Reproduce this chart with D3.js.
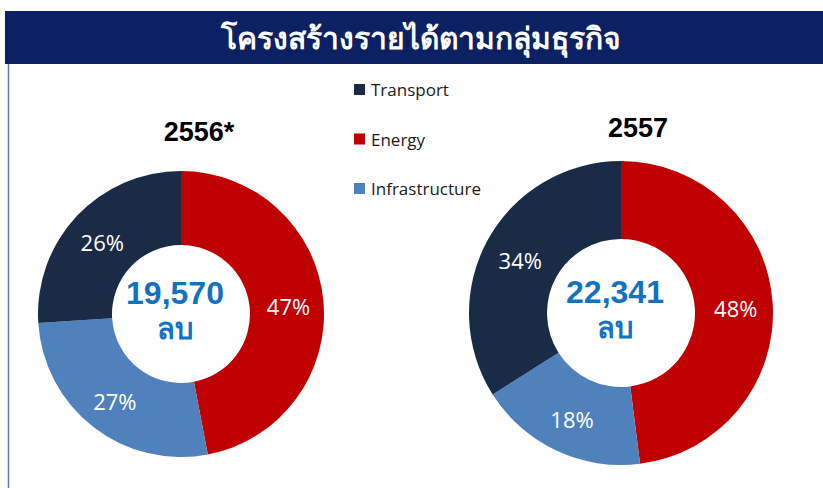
<!DOCTYPE html>
<html>
<head>
<meta charset="utf-8">
<script src="https://cdn.jsdelivr.net/npm/d3@7"></script>
<style>
  body { margin: 0; background: #fff; }
  svg { display: block; font-family: "Liberation Sans", Arial, sans-serif; }
</style>
</head>
<body>
<svg id="chart" width="823" height="488"></svg>
<script>
const title = 'โครงสร้างรายได้ตามกลุ่มธุรกิจ';
const categories = ['Energy', 'Infrastructure', 'Transport'];
const legendOrder = ['Transport', 'Energy', 'Infrastructure'];
const colors = ['#c00000', '#4f81bd', '#1a2b48'];
const years = ['2556*', '2557'];
const totals = ['19,570', '22,341'];
const share2556 = [47, 27, 26];
const share2557 = [48, 18, 34];

const svg = d3.select('#chart');

// title bar
svg.append('rect')
  .attr('x', 5).attr('y', 11)
  .attr('width', 818).attr('height', 53)
  .attr('fill', '#0b2163');
svg.append('text')
  .attr('x', 421).attr('y', 49)
  .attr('text-anchor', 'middle')
  .attr('fill', '#fff')
  .attr('font-size', 30)
  .attr('font-weight', 'bold')
  .text(title);

// left frame line
svg.append('line')
  .attr('x1', 8.5).attr('x2', 8.5)
  .attr('y1', 64).attr('y2', 488)
  .attr('stroke', '#5b7db0').attr('stroke-width', 1.5);

var color = d3.scaleOrdinal().domain(categories).range(colors);

var pie = d3.pie().sort(null).value(function(d) { return d.v; });

var donuts = [
  { year: years[0], total: totals[0], values: share2556, cx: 181, cy: 314, r: 143, ri: 69, yearX: 199, yearY: 141 },
  { year: years[1], total: totals[1], values: share2557, cx: 621, cy: 313, r: 152, ri: 74, yearX: 638, yearY: 137 }
];

donuts.forEach(function(dn) {
  var data = categories.map(function(c, i) { return { cat: c, v: dn.values[i] }; });
  var arc = d3.arc().innerRadius(dn.ri).outerRadius(dn.r);
  var labelArc = d3.arc().innerRadius((dn.r + dn.ri) / 2 + 2).outerRadius((dn.r + dn.ri) / 2 + 2);

  var g = svg.append('g').attr('transform', `translate(${dn.cx},${dn.cy})`);

  g.selectAll('path')
    .data(pie(data))
    .enter()
    .append('path')
    .attr('d', arc)
    .attr('fill', function(d) { return color(d.data.cat); });

  g.selectAll('.pct')
    .data(pie(data))
    .enter()
    .append('text')
    .attr('class', 'pct')
    .attr('transform', function(d) { return `translate(${labelArc.centroid(d)})`; })
    .attr('text-anchor', 'middle')
    .attr('dy', '0.5em')
    .attr('fill', '#fff')
    .attr('font-family', '"Open Sans", sans-serif')
    .attr('font-size', 22)
    .text(function(d) { return d.data.v + '%'; });

  g.append('text')
    .attr('x', -6).attr('y', -10)
    .attr('text-anchor', 'middle')
    .attr('fill', '#1272c2')
    .attr('font-size', 32)
    .attr('font-weight', 'bold')
    .text(dn.total);
  g.append('text')
    .attr('x', -6).attr('y', 25)
    .attr('text-anchor', 'middle')
    .attr('fill', '#1272c2')
    .attr('font-size', 29)
    .attr('font-weight', 'bold')
    .text('ลบ');

  svg.append('text')
    .attr('x', dn.yearX).attr('y', dn.yearY)
    .attr('text-anchor', 'middle')
    .attr('fill', '#000')
    .attr('font-size', 27)
    .attr('font-weight', 'bold')
    .text(dn.year);
});

// legend
var legendRectSize = 11;
var legend = svg.selectAll('.legend')
  .data(legendOrder)
  .enter()
  .append('g')
  .attr('class', 'legend')
  .attr('transform', function(d, i) { return `translate(354,${84 + i * 49.5})`; });

legend.append('rect')
  .attr('width', legendRectSize)
  .attr('height', legendRectSize)
  .attr('fill', color);

legend.append('text')
  .attr('x', legendRectSize + 6)
  .attr('y', legendRectSize + 1)
  .attr('fill', '#1a1a1a')
  .attr('font-family', '"Open Sans", sans-serif')
  .attr('font-size', 17)
  .text(function(d) { return d; });
</script>
</body>
</html>
